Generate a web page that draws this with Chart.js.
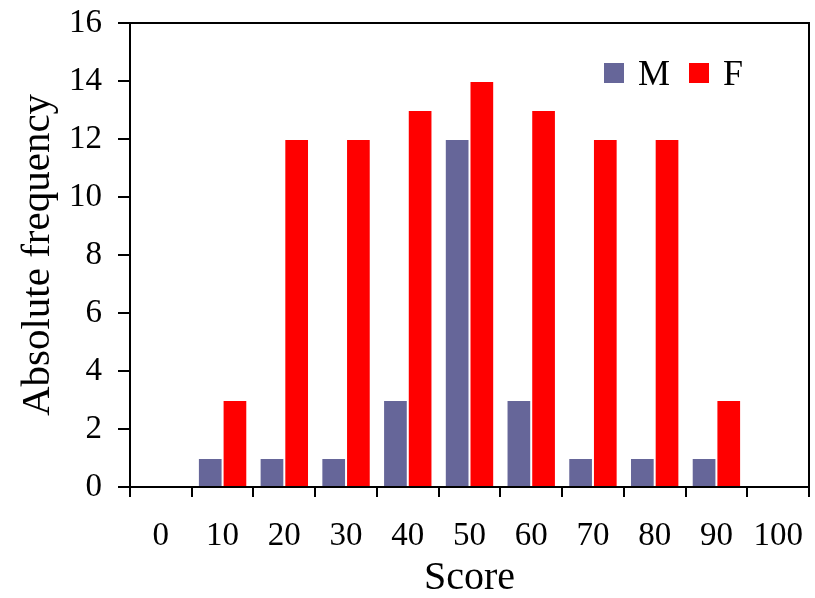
<!DOCTYPE html>
<html>
<head>
<meta charset="utf-8">
<script src="https://cdn.jsdelivr.net/npm/chart.js@4.4.1/dist/chart.umd.min.js"></script>
<style>
    body { margin: 0; background: #fff; }
    #wrap { position: relative; width: 815px; height: 598px; }
    #legenda { position: absolute; left: 604px; top: 52px; display: flex; align-items: center;
        font-family: "Liberation Serif", "Times New Roman", serif; font-size: 36px; color: #000; }
    #legenda .item { display: flex; align-items: center; margin-right: 19px; }
    #legenda .caixa { width: 20px; height: 20px; margin-right: 14px; }
</style>
</head>
<body>
<div id="wrap">
    <canvas id="grafico" width="815" height="598"></canvas>
    <div id="legenda"></div>
</div>
<script>
const categorias = ['0', '10', '20', '30', '40', '50', '60', '70', '80', '90', '100'];
const valoresM = [0, 1, 1, 1, 3, 12, 3, 1, 1, 1, 0];
const valoresF = [0, 3, 12, 12, 13, 14, 13, 12, 12, 3, 0];
const ticksY = [0, 2, 4, 6, 8, 10, 12, 14, 16];

const fonte = '"Liberation Serif", "Times New Roman", serif';

// moldura de cima e da direita
const moldura = {
    id: 'moldura',
    afterDraw(chart) {
        const { ctx, chartArea: a } = chart;
        ctx.save();
        ctx.strokeStyle = '#000';
        ctx.lineWidth = 2;
        ctx.beginPath();
        ctx.moveTo(a.left, a.top);
        ctx.lineTo(a.right, a.top);
        ctx.lineTo(a.right, a.bottom);
        ctx.stroke();
        ctx.restore();
    }
};

const series = [
    { label: 'M', data: valoresM, backgroundColor: '#666699' },
    { label: 'F', data: valoresF, backgroundColor: '#ff0000' }
];

const ctx = document.getElementById('grafico').getContext('2d');
const meuGrafico = new Chart(ctx, {
    type: 'bar',
    data: {
        labels: categorias,
        datasets: series.map(s => ({
            label: s.label,
            data: s.data,
            backgroundColor: s.backgroundColor,
            borderColor: '#ffffff',
            borderWidth: 1,
            categoryPercentage: 0.8,
            barPercentage: 1
        }))
    },
    options: {
        responsive: false,
        animation: false,
        layout: { padding: { top: 23, right: 6, left: 0, bottom: 0 } },
        plugins: { legend: { display: false }, tooltip: { enabled: false } },
        scales: {
            x: {
                afterFit: s => { s.height = 111; s.paddingLeft = 0; s.paddingRight = 0; },
                border: { color: '#000', width: 2 },
                grid: { drawOnChartArea: false, color: '#000', lineWidth: 2, tickLength: 10, offset: true },
                ticks: { color: '#000', font: { family: fonte, size: 33 }, padding: 20, maxRotation: 0 },
                title: { display: true, text: 'Score', color: '#000', font: { family: fonte, size: 40, lineHeight: 1 }, padding: 0 }
            },
            y: {
                min: 0,
                max: 16,
                afterFit: s => { s.width = 130; s.paddingTop = 0; s.paddingBottom = 0; },
                afterBuildTicks: s => { s.ticks = ticksY.map(v => ({ value: v })); },
                border: { color: '#000', width: 2 },
                grid: { drawOnChartArea: false, color: '#000', lineWidth: 2, tickLength: 12 },
                ticks: { color: '#000', font: { family: fonte, size: 33 }, padding: 16 },
                title: { display: true, text: 'Absolute frequency', color: '#000', font: { family: fonte, size: 41, lineHeight: 1 }, padding: { top: 18, bottom: 0 } }
            }
        }
    },
    plugins: [moldura]
});

document.getElementById('legenda').innerHTML = series.map(s => `
    <div class="item"><span class="caixa" style="background:${s.backgroundColor}"></span><span>${s.label}</span></div>
`).join('');
</script>
</body>
</html>
